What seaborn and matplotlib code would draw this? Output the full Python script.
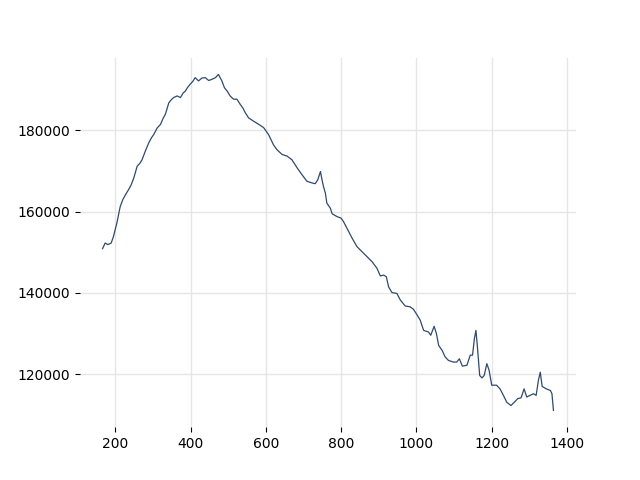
import numpy as np
import pandas as pd
import matplotlib
matplotlib.use("Agg")
import matplotlib.pyplot as plt
import seaborn as sns

# values
x_vals = [166, 173, 180, 189, 195, 204, 213, 220, 227, 235, 242, 249, 258, 265, 271, 280, 289,
          296, 302, 311, 320, 327, 333, 342, 349, 355, 364, 373, 380, 386, 392, 399, 406, 412,
          421, 430, 439, 448, 457, 466, 474, 483, 490, 497, 505, 514, 523, 532, 539, 545, 554,
          567, 581, 594, 607, 620, 629, 643, 656, 669, 683, 696, 709, 722, 731, 738, 745, 749,
          753, 758, 762, 771, 776, 789, 800, 806, 815, 829, 842, 855, 868, 882, 895, 904, 913,
          920, 926, 935, 948, 957, 970, 983, 992, 1001, 1010, 1019, 1032, 1038, 1047, 1053,
          1059, 1068, 1076, 1085, 1098, 1107, 1114, 1122, 1134, 1143, 1149, 1154, 1158, 1162,
          1168, 1174, 1180, 1187, 1193, 1200, 1213, 1222, 1231, 1240, 1251, 1260, 1269, 1278,
          1286, 1293, 1302, 1311, 1318, 1324, 1329, 1334, 1345, 1356, 1360, 1364]
y_vals = [150900, 152300, 151900, 152300, 153900, 157200, 161300, 163000, 164200, 165400, 166600,
          168300, 171200, 171900, 172800, 175000, 177000, 178200, 179000, 180600, 181500, 183000,
          184000, 186800, 187600, 188100, 188500, 188100, 189200, 189700, 190600, 191400, 192100,
          193000, 192200, 192900, 193000, 192300, 192600, 193000, 193800, 192200, 190500, 189700,
          188500, 187700, 187700, 186400, 185500, 184400, 183100, 182300, 181500, 180700, 179000,
          176500, 175300, 174100, 173700, 172800, 170800, 169100, 167500, 167100, 166900, 167900,
          169900, 167900, 166200, 164600, 162100, 160900, 159500, 158800, 158400, 157600, 156000,
          153500, 151400, 150200, 149000, 147700, 146100, 144200, 144400, 144000, 141500, 140100,
          139900, 138300, 136800, 136600, 136000, 134700, 133300, 130800, 130400, 129600, 131800,
          130000, 127100, 125900, 124300, 123400, 123000, 123000, 123800, 122000, 122200, 124700,
          124700, 128800, 130800, 126700, 119700, 119100, 119700, 122600, 121000, 117300, 117300,
          116400, 114800, 113100, 112300, 113100, 114000, 114200, 116400, 114400, 114800, 115200,
          114800, 118500, 120500, 117000, 116400, 116000, 115200, 111100]

df = pd.DataFrame({"x": x_vals, "y": y_vals})

fig, ax = plt.subplots(figsize=(6.4, 4.8), dpi=100)
sns.lineplot(data=df, x="x", y="y", ax=ax, color="#2f4a6d", linewidth=0.9)

ax.grid(True, color="#e6e6e6", linewidth=1)
ax.set_axisbelow(True)
for s in ax.spines.values():
    s.set_visible(False)
ax.set_xlabel("")
ax.set_ylabel("")
ax.set_xticks([200, 400, 600, 800, 1000, 1200, 1400])
ax.set_yticks([120000, 140000, 160000, 180000])

fig.savefig("out.png", dpi=100)
